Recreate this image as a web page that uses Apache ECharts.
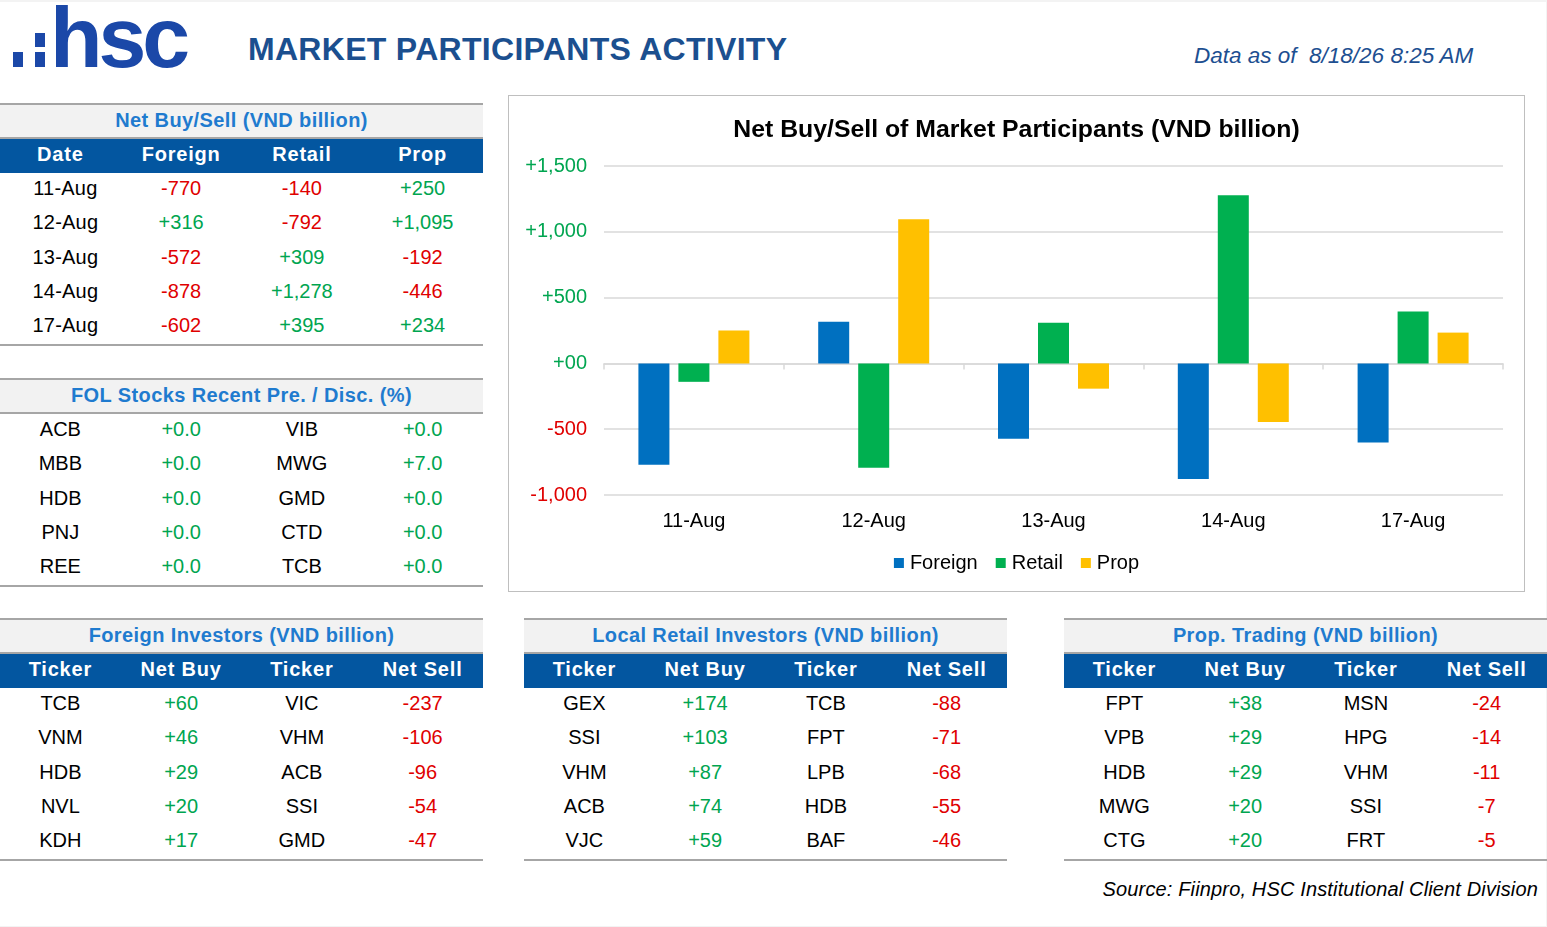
<!DOCTYPE html>
<html>
<head>
<meta charset="utf-8">
<title>Market Participants Activity</title>
<script src="https://cdn.jsdelivr.net/npm/echarts@6/dist/echarts.min.js"></script>
<style>
  html, body { margin: 0; padding: 0; background: #fff; }
  body { width: 1547px; height: 927px; position: relative; overflow: hidden;
         font-family: 'Liberation Sans', Arial, sans-serif; }
  .frame { position: absolute; left: 0; top: 0; width: 1546px; height: 924px;
           border-top: 2px solid #f3f3f3; border-right: 1px solid #f3f3f3; border-bottom: 1px solid #f3f3f3; }
  .sq { position: absolute; background: #1b48a8; width: 10px; }
  .logo { position: absolute; left: 50px; top: -6px; font-size: 86px; font-weight: bold;
          color: #1b48a8; letter-spacing: -4px; line-height: 86px; }
  .title { position: absolute; left: 248px; top: 31px; font-size: 32px; font-weight: bold;
           color: #1b4f8f; white-space: nowrap; letter-spacing: 0.3px; }
  .asof { position: absolute; left: 1194px; top: 43px; font-size: 22.5px; font-style: italic;
          color: #1d4f91; white-space: nowrap; }
  .source { position: absolute; right: 9px; top: 878px; font-size: 20px; font-style: italic;
            color: #000; white-space: nowrap; letter-spacing: 0.15px; }
  .block { position: absolute; width: 483px; }
  .block .cap { height: 32px; line-height: 30px; background: #f2f2f2; text-align: center;
                border-top: 2px solid #a6a6a6; border-bottom: 2px solid #a6a6a6;
                color: #1f7bcf; font-weight: bold; font-size: 20px; letter-spacing: 0.4px; }
  .block .row { display: flex; height: 34.3px; line-height: 31px; font-size: 20px; }
  .block .row div { flex: 1; text-align: center; }
  .block .row div.date { position: relative; left: 5px; letter-spacing: 0.2px; }
  .block .head { background: #0356a0; color: #fff; font-weight: bold; letter-spacing: 0.8px;
                 height: 34px; line-height: 31px; }
  .block .foot { border-bottom: 2px solid #a6a6a6; }
  .pos { color: #00a550; }
  .neg { color: #e00000; }
  #chart { position: absolute; left: 508px; top: 95px; width: 1015px; height: 495px;
           border: 1px solid #bfbfbf; }
</style>
</head>
<body>
<div class="frame"></div>
<div class="sq" style="left:13px;top:52px;height:15px"></div>
<div class="sq" style="left:35px;top:33px;height:14px"></div>
<div class="sq" style="left:35px;top:52px;height:15px"></div>
<div class="logo">hsc</div>
<div class="title">MARKET PARTICIPANTS ACTIVITY</div>
<div class="asof">Data as of&nbsp; 8/18/26 8:25 AM</div>

<div id="netTable" class="block" style="left:0;top:103px"></div>
<div id="folTable" class="block" style="left:0;top:378px"></div>
<div id="foreignTable" class="block" style="left:0;top:618px"></div>
<div id="retailTable" class="block" style="left:524px;top:618px"></div>
<div id="propTable" class="block" style="left:1064px;top:618px"></div>
<div id="chart"></div>
<div class="source">Source: Fiinpro, HSC Institutional Client Division</div>

<script>
// net buy/sell by date
var dates = ['11-Aug', '12-Aug', '13-Aug', '14-Aug', '17-Aug'];
var foreignNet = [-770, 316, -572, -878, -602];
var retailNet = [-140, -792, 309, 1278, 395];
var propNet = [250, 1095, -192, -446, 234];

// FOL premium / discount
var folLeftTickers = ['ACB', 'MBB', 'HDB', 'PNJ', 'REE'];
var folLeftValues = [0.0, 0.0, 0.0, 0.0, 0.0];
var folRightTickers = ['VIB', 'MWG', 'GMD', 'CTD', 'TCB'];
var folRightValues = [0.0, 7.0, 0.0, 0.0, 0.0];

// top net buy / net sell
var foreignBuyTickers = ['TCB', 'VNM', 'HDB', 'NVL', 'KDH'];
var foreignBuyValues = [60, 46, 29, 20, 17];
var foreignSellTickers = ['VIC', 'VHM', 'ACB', 'SSI', 'GMD'];
var foreignSellValues = [-237, -106, -96, -54, -47];

var retailBuyTickers = ['GEX', 'SSI', 'VHM', 'ACB', 'VJC'];
var retailBuyValues = [174, 103, 87, 74, 59];
var retailSellTickers = ['TCB', 'FPT', 'LPB', 'HDB', 'BAF'];
var retailSellValues = [-88, -71, -68, -55, -46];

var propBuyTickers = ['FPT', 'VPB', 'HDB', 'MWG', 'CTG'];
var propBuyValues = [38, 29, 29, 20, 20];
var propSellTickers = ['MSN', 'HPG', 'VHM', 'SSI', 'FRT'];
var propSellValues = [-24, -14, -11, -7, -5];

var yTicks = { min: -1000, max: 1500, interval: 500 };

function fmt(v, dec) {
  var s = Math.abs(v).toLocaleString('en-US', { minimumFractionDigits: dec || 0, maximumFractionDigits: dec || 0 });
  return (v < 0 ? '-' : '+') + s;
}
function numCell(v, dec) {
  return '<div class="' + (v < 0 ? 'neg' : 'pos') + '">' + fmt(v, dec) + '</div>';
}
function textCell(t, cls) { return '<div' + (cls ? ' class="' + cls + '"' : '') + '>' + t + '</div>'; }

function buildBlock(id, caption, header, rows) {
  var html = '<div class="cap">' + caption + '</div>';
  if (header) {
    html += '<div class="row head">' + header.map(function (h) { return textCell(h); }).join('') + '</div>';
  }
  html += rows.map(function (r, i) {
    return '<div class="row' + (i === rows.length - 1 ? ' foot' : '') + '">' + r.join('') + '</div>';
  }).join('');
  document.getElementById(id).innerHTML = html;
}

buildBlock('netTable', 'Net Buy/Sell (VND billion)', ['Date', 'Foreign', 'Retail', 'Prop'],
  dates.map(function (d, i) {
    return [textCell(d, 'date'), numCell(foreignNet[i]), numCell(retailNet[i]), numCell(propNet[i])];
  }));

buildBlock('folTable', 'FOL Stocks Recent Pre. / Disc. (%)', null,
  folLeftTickers.map(function (t, i) {
    return [textCell(t), numCell(folLeftValues[i], 1), textCell(folRightTickers[i]), numCell(folRightValues[i], 1)];
  }));

function topBlock(id, caption, bt, bv, st, sv) {
  buildBlock(id, caption, ['Ticker', 'Net Buy', 'Ticker', 'Net Sell'],
    bt.map(function (t, i) {
      return [textCell(t), numCell(bv[i]), textCell(st[i]), numCell(sv[i])];
    }));
}
topBlock('foreignTable', 'Foreign Investors (VND billion)', foreignBuyTickers, foreignBuyValues, foreignSellTickers, foreignSellValues);
topBlock('retailTable', 'Local Retail Investors (VND billion)', retailBuyTickers, retailBuyValues, retailSellTickers, retailSellValues);
topBlock('propTable', 'Prop. Trading (VND billion)', propBuyTickers, propBuyValues, propSellTickers, propSellValues);

// bar chart
var myChart = echarts.init(document.getElementById('chart'));
var font = "'Liberation Sans', Arial, sans-serif";
myChart.setOption({
  animation: false,
  textStyle: { fontFamily: font },
  title: {
    text: 'Net Buy/Sell of Market Participants (VND billion)',
    left: 'center', top: 17,
    textStyle: { fontFamily: font, fontSize: 24.8, fontWeight: 'bold', color: '#000' }
  },
  legend: {
    data: ['Foreign', 'Retail', 'Prop'],
    left: 'center', top: 452,
    icon: 'rect', itemWidth: 10, itemHeight: 10, itemGap: 18,
    textStyle: { fontFamily: font, fontSize: 20, color: '#000', padding: [0, 0, 0, 1] }
  },
  grid: { left: 95, right: 21, top: 70, bottom: 96 },
  xAxis: [
    {
      type: 'category', data: dates,
      axisLine: { onZero: true, lineStyle: { color: '#d9d9d9', width: 1.5 } },
      axisTick: { show: true, length: 6, lineStyle: { color: '#d9d9d9', width: 1.5 } },
      axisLabel: { show: false }
    },
    {
      type: 'category', data: dates, position: 'bottom',
      axisLine: { show: false, onZero: false },
      axisTick: { show: false },
      axisLabel: { margin: 16, fontFamily: font, fontSize: 20, color: '#000' }
    }
  ],
  yAxis: {
    type: 'value', min: yTicks.min, max: yTicks.max, interval: yTicks.interval,
    axisLine: { show: false }, axisTick: { show: false },
    splitLine: { lineStyle: { color: '#d9d9d9', width: 1.5 } },
    axisLabel: {
      margin: 17, fontFamily: font, fontSize: 20,
      formatter: function (v) { return v === 0 ? '+00' : fmt(v); },
      color: function (v) { return Number(v) < 0 ? '#e00000' : '#00a550'; }
    }
  },
  series: [
    { name: 'Foreign', type: 'bar', data: foreignNet, barWidth: 31, barGap: '29%', itemStyle: { color: '#0070c0' } },
    { name: 'Retail', type: 'bar', data: retailNet, barWidth: 31, barGap: '29%', itemStyle: { color: '#00b050' } },
    { name: 'Prop', type: 'bar', data: propNet, barWidth: 31, barGap: '29%', itemStyle: { color: '#ffc000' } }
  ]
});
</script>
</body>
</html>
